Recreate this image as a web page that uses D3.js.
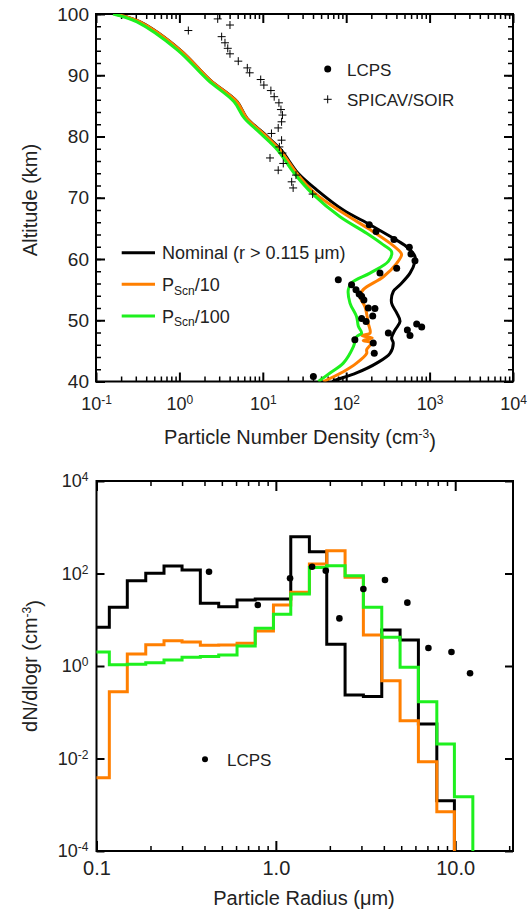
<!DOCTYPE html>
<html>
<head>
<meta charset="utf-8">
<script src="https://cdn.jsdelivr.net/npm/d3@7"></script>
<style>
  body { margin: 0; background: #fff; }
  svg { display: block; font-family: "Liberation Sans", Arial, Helvetica, sans-serif; }
</style>
</head>
<body>
<div id="chart"></div>
<script>
const width = 531;
const height = 911;

// ---- top panel: number density profiles (altitude km, density cm^-3)
const nominalAlt = [100, 98.7, 94.1, 89.2, 85.7, 83.0, 80.5, 77.8, 74.0, 71.3, 68.0, 65.6, 63.7, 62.0, 60.4, 59.6, 57.7, 55.8, 54.7, 52.8, 51.2, 49.8, 48.4, 47.1, 46.3, 44.6, 43.0, 41.4, 40.3, 40.0];
const nominalDen = [0.17, 0.338, 1.025, 2.34, 4.9, 6.45, 10.3, 16.6, 26.5, 44.3, 92.3, 193, 335, 531, 668, 668, 582, 442, 367, 350, 403, 442, 385, 350, 367, 335, 232, 133, 76.9, 68];

const scn10Alt = [100, 98.7, 94.1, 89.2, 85.7, 83.0, 80.5, 77.8, 74.0, 70.7, 67.5, 64.8, 62.6, 61.2, 60.7, 59.3, 57.1, 55.0, 53.9, 52.2, 49.5, 47.9, 47.5, 47.1, 46.7, 46.3, 45.2, 44.6, 43.0, 41.6, 40.0];
const scn10Den = [0.17, 0.336, 1.02, 2.33, 4.86, 6.41, 10.1, 16.1, 25.5, 42.3, 92.3, 193, 335, 442, 462, 403, 279, 160, 146, 168, 184, 193, 153, 205, 160, 200, 176, 176, 133, 92.3, 53.2];

const scn100Alt = [100, 98.7, 94.1, 89.2, 85.7, 83.0, 80.5, 77.8, 74.0, 70.5, 66.9, 64.2, 62.3, 61.2, 59.6, 57.7, 56.1, 55.0, 52.8, 50.6, 49.0, 47.9, 47.3, 45.7, 43.0, 41.4, 40.0];
const scn100Den = [0.16, 0.31, 0.95, 2.2, 4.5, 6.0, 9.4, 15.0, 23.8, 40.4, 84.3, 176, 279, 350, 320, 193, 116, 106, 111, 133, 140, 153, 133, 122, 92.3, 64.0, 46.3];

const lcpsAlt = [65.6, 64.5, 63.2, 61.9, 60.8, 59.7, 58.5, 57.7, 56.6, 55.8, 55.0, 54.3, 53.9, 53.3, 52.0, 51.9, 50.7, 50.3, 49.8, 49.4, 48.9, 48.4, 47.9, 47.5, 46.8, 46.3, 44.6, 40.8];
const lcpsDen = [189, 228, 374, 571, 598, 668, 403, 254, 80.4, 116, 131, 143, 153, 163, 184, 221, 208, 153, 173, 700, 804, 541, 320, 582, 127, 211, 217, 40.4];

const soirAlt = [99.2, 98.2, 97.3, 96.3, 95.3, 94.4, 93.5, 92.3, 91.2, 90.4, 89.3, 88.4, 87.5, 86.5, 85.5, 84.4, 83.5, 82.4, 81.4, 80.5, 79.4, 78.3, 77.3, 76.5, 75.6, 74.5, 73.7, 72.6, 71.6, 70.6];
const soirDen = [2.88, 4.04, 1.28, 3.21, 3.52, 3.80, 4.04, 5.08, 6.52, 6.96, 9.44, 10.3, 12.5, 13.7, 15.6, 16.5, 17.2, 16.8, 15.3, 12.7, 16.8, 15.8, 17.2, 12.2, 17.6, 15.3, 25.0, 22.2, 23.1, 39.6];

const altTicks = [40, 50, 60, 70, 80, 90, 100];
const altMinorTicks = d3.range(40, 101, 2);
const denTicks = [0.1, 1, 10, 100, 1000, 10000];

// ---- bottom panel: size distributions (bin edges in micron, dN/dlogr cm^-3)
const radiusEdges = [0.0935, 0.1179, 0.1485, 0.1882, 0.2379, 0.2999, 0.3793, 0.4802, 0.6076, 0.7674, 0.9696, 1.211, 1.538, 1.922, 2.432, 3.076, 3.895, 4.928, 6.234, 7.897, 9.897, 12.54];
const nominalDist = [6.87, 18.6, 70, 101, 145, 119, 22.7, 19.2, 26.7, 28.1, 28.0, 625, 296, 2.94, 0.236, 0.219, 6.0, 3.65, 0.0557, 0.00122];
const scn10Dist = [0.00385, 0.278, 1.82, 2.89, 3.52, 3.30, 2.80, 2.83, 3.12, 5.71, 20.8, 39.2, 160, 311, 82.7, 4.68, 0.481, 0.0656, 0.00853, 0.000708];
const scn100Dist = [2.01, 1.07, 1.09, 1.18, 1.35, 1.54, 1.61, 1.73, 2.70, 6.53, 13.1, 36.1, 134, 147, 89.7, 18.6, 4.17, 0.935, 0.169, 0.0206, 0.00149];

const lcpsRadius = [0.424, 0.793, 1.20, 1.592, 1.898, 2.261, 3.076, 4.06, 5.41, 7.09, 9.53, 12.1];
const lcpsDist = [109, 20.8, 78.7, 140, 115, 10.7, 46.2, 72.3, 23.4, 2.45, 2.01, 0.695];

const radiusTicks = [0.1, 1, 10];
const radiusLabels = ["0.1", "1.0", "10.0"];
const radiusMinorTicks = [0.2, 0.3, 0.4, 0.5, 0.6, 0.7, 0.8, 0.9, 2, 3, 4, 5, 6, 7, 8, 9, 20];
const distTicks = [1e-4, 1e-2, 1, 1e2, 1e4];

const colors = { nominal: "#000000", scn10: "#ff7f00", scn100: "#1ef01e" };
const textColor = "#222";

const svg = d3.select("#chart")
  .append("svg")
  .attr("width", width)
  .attr("height", height);

svg.append("rect").attr("width", width).attr("height", height).attr("fill", "#fff");

// panel boxes
const upper = { left: 96, right: 513, top: 14, bottom: 381.5 };
const lower = { left: 96.5, right: 513, top: 481, bottom: 851 };

const xTop = d3.scaleLog().domain([0.1, 1e4]).range([upper.left, upper.right]);
const yTop = d3.scaleLinear().domain([40, 100]).range([upper.bottom, upper.top]);
const xBot = d3.scaleLog().domain([0.1, 21]).range([lower.left, lower.right]);
const yBot = d3.scaleLog().domain([1e-4, 1e4]).range([lower.bottom, lower.top]);

const defs = svg.append("defs");
[["clipTop", upper], ["clipBot", lower]].forEach(([id, b]) => {
  defs.append("clipPath").attr("id", id)
    .append("rect")
    .attr("x", b.left).attr("y", b.top)
    .attr("width", b.right - b.left).attr("height", b.bottom - b.top);
});

function addAxis(axis, transform, strokeWidth, fontSize = 19) {
  const a = svg.append("g").attr("transform", transform).call(axis);
  a.select(".domain").remove();
  a.selectAll(".tick line").attr("stroke", "#000").attr("stroke-width", strokeWidth);
  a.selectAll(".tick text")
    .attr("fill", textColor)
    .attr("font-size", fontSize + "px")
    .attr("font-family", "Liberation Sans, Arial, sans-serif");
  return a;
}

function powerLabels(a) {
  a.selectAll(".tick text").each(function(d) {
    const t = d3.select(this);
    t.text(null);
    t.append("tspan").text("10");
    t.append("tspan").attr("dy", "-0.5em").attr("font-size", "12px").text(Math.round(Math.log10(d)));
  });
}

// ---- top panel axes
const noLabel = () => "";
addAxis(d3.axisLeft(yTop).tickValues(altMinorTicks).tickSize(-5).tickFormat(noLabel), `translate(${upper.left},0)`, 1.5);
addAxis(d3.axisRight(yTop).tickValues(altMinorTicks).tickSize(-5).tickFormat(noLabel), `translate(${upper.right},0)`, 1.5);
addAxis(d3.axisLeft(yTop).tickValues(altTicks).tickSize(-9).tickPadding(7).tickFormat(d3.format("d")), `translate(${upper.left},0)`, 2, 19);
addAxis(d3.axisRight(yTop).tickValues(altTicks).tickSize(-9).tickFormat(noLabel), `translate(${upper.right},0)`, 2);

const denMinor = [];
denTicks.slice(0, -1).forEach(d => d3.range(2, 10).forEach(m => denMinor.push(d * m)));
addAxis(d3.axisBottom(xTop).tickValues(denMinor).tickSize(-5).tickFormat(noLabel), `translate(0,${upper.bottom})`, 1.5);
addAxis(d3.axisTop(xTop).tickValues(denMinor).tickSize(-5).tickFormat(noLabel), `translate(0,${upper.top})`, 1.5);
powerLabels(addAxis(d3.axisBottom(xTop).tickValues(denTicks).tickSize(-9).tickPadding(16), `translate(0,${upper.bottom})`, 2, 18));
addAxis(d3.axisTop(xTop).tickValues(denTicks).tickSize(-9).tickFormat(noLabel), `translate(0,${upper.top})`, 2);

svg.append("rect")
  .attr("x", upper.left).attr("y", upper.top)
  .attr("width", upper.right - upper.left).attr("height", upper.bottom - upper.top)
  .attr("fill", "none").attr("stroke", "#000").attr("stroke-width", 2);

// ---- top panel data
const profileLine = d3.line()
  .x(d => xTop(d[1]))
  .y(d => yTop(d[0]))
  .curve(d3.curveCatmullRom.alpha(0.5));

const topPlot = svg.append("g").attr("clip-path", "url(#clipTop)");
[
  [nominalAlt, nominalDen, colors.nominal],
  [scn10Alt, scn10Den, colors.scn10],
  [scn100Alt, scn100Den, colors.scn100],
].forEach(([alt, den, color]) => {
  topPlot.append("path")
    .datum(d3.zip(alt, den))
    .attr("fill", "none")
    .attr("stroke", color)
    .attr("stroke-width", 3)
    .attr("stroke-linejoin", "round")
    .attr("d", profileLine);
});

topPlot.selectAll(".soir")
  .data(d3.zip(soirAlt, soirDen))
  .join("path")
  .attr("class", "soir")
  .attr("d", d => {
    const x = xTop(d[1]), y = yTop(d[0]);
    return `M${x - 4},${y}H${x + 4}M${x},${y - 4}V${y + 4}`;
  })
  .attr("stroke", "#000")
  .attr("stroke-width", 1);

topPlot.selectAll(".lcps")
  .data(d3.zip(lcpsAlt, lcpsDen))
  .join("circle")
  .attr("class", "lcps")
  .attr("cx", d => xTop(d[1]))
  .attr("cy", d => yTop(d[0]))
  .attr("r", 3.5)
  .attr("fill", "#000");

// top legends
svg.append("circle").attr("cx", 327.7).attr("cy", 69).attr("r", 3.5).attr("fill", "#000");
svg.append("path").attr("d", "M323.7,99.3H331.7M327.7,95.3V103.3").attr("stroke", "#000").attr("stroke-width", 1);
svg.append("text").attr("x", 347).attr("y", 75.5).attr("font-size", "17px").attr("fill", textColor).text("LCPS");
svg.append("text").attr("x", 347).attr("y", 105.5).attr("font-size", "17px").attr("fill", textColor).text("SPICAV/SOIR");

const lineLegend = [
  { color: colors.nominal, y: 252.7, label: "Nominal (r > 0.115 \u03bcm)" },
  { color: colors.scn10, y: 284.3, label: "/10" },
  { color: colors.scn100, y: 316, label: "/100" },
];
lineLegend.forEach((item, i) => {
  svg.append("line")
    .attr("x1", 121.7).attr("x2", 155)
    .attr("y1", item.y).attr("y2", item.y)
    .attr("stroke", item.color).attr("stroke-width", 3);
  const t = svg.append("text")
    .attr("x", 162).attr("y", item.y + 6.5)
    .attr("font-size", "18px").attr("fill", textColor);
  if (i === 0) {
    t.text(item.label);
  } else {
    t.append("tspan").text("P");
    t.append("tspan").attr("dy", "0.33em").attr("font-size", "12px").text("Scn");
    t.append("tspan").attr("dy", "-0.22em").text(item.label);
  }
});

// ---- bottom panel axes
addAxis(d3.axisBottom(xBot).tickValues(radiusMinorTicks).tickSize(-5).tickFormat(noLabel), `translate(0,${lower.bottom})`, 1.5);
addAxis(d3.axisTop(xBot).tickValues(radiusMinorTicks.filter(d => d < 20)).tickSize(-5).tickFormat(noLabel), `translate(0,${lower.top})`, 1.5);
addAxis(d3.axisBottom(xBot).tickValues(radiusTicks).tickSize(-10).tickPadding(10).tickFormat((d, i) => radiusLabels[i]), `translate(0,${lower.bottom})`, 2, 20);
addAxis(d3.axisTop(xBot).tickValues(radiusTicks).tickSize(-10).tickFormat(noLabel), `translate(0,${lower.top})`, 2);
powerLabels(addAxis(d3.axisLeft(yBot).tickValues(distTicks).tickSize(-8).tickPadding(8), `translate(${lower.left},0)`, 2, 18));
addAxis(d3.axisRight(yBot).tickValues(distTicks).tickSize(-8).tickFormat(noLabel), `translate(${lower.right},0)`, 2);

svg.append("rect")
  .attr("x", lower.left).attr("y", lower.top)
  .attr("width", lower.right - lower.left).attr("height", lower.bottom - lower.top)
  .attr("fill", "none").attr("stroke", "#000").attr("stroke-width", 2);

// ---- bottom panel histograms
const stepLine = d3.line()
  .x(d => xBot(d[0]))
  .y(d => yBot(d[1]))
  .curve(d3.curveStepAfter);

const botPlot = svg.append("g").attr("clip-path", "url(#clipBot)");
[
  [nominalDist, colors.nominal],
  [scn10Dist, colors.scn10],
  [scn100Dist, colors.scn100],
].forEach(([vals, color]) => {
  const pts = vals.map((v, i) => [radiusEdges[i], v]);
  pts.push([radiusEdges[vals.length], 1e-7]);
  botPlot.append("path")
    .datum(pts)
    .attr("fill", "none")
    .attr("stroke", color)
    .attr("stroke-width", 3)
    .attr("d", stepLine);
});

botPlot.selectAll(".lcps-dist")
  .data(d3.zip(lcpsRadius, lcpsDist))
  .join("circle")
  .attr("class", "lcps-dist")
  .attr("cx", d => xBot(d[0]))
  .attr("cy", d => yBot(d[1]))
  .attr("r", 3.3)
  .attr("fill", "#000");

svg.append("circle").attr("cx", 205).attr("cy", 759.3).attr("r", 3).attr("fill", "#000");
svg.append("text").attr("x", 227).attr("y", 765.5).attr("font-size", "17px").attr("fill", textColor).text("LCPS");

// ---- axis titles
const t1 = svg.append("text").attr("x", 300).attr("y", 444).attr("text-anchor", "middle").attr("font-size", "20px").attr("fill", textColor);
t1.append("tspan").text("Particle Number Density (cm");
t1.append("tspan").attr("dy", "-0.5em").attr("font-size", "12px").text("-3");
t1.append("tspan").attr("dy", "0.5em").text(")");

svg.append("text")
  .attr("transform", "translate(37,200) rotate(-90)")
  .attr("text-anchor", "middle").attr("font-size", "20px").attr("fill", textColor)
  .text("Altitude (km)");

const t2 = svg.append("text")
  .attr("transform", "translate(37,666) rotate(-90)")
  .attr("text-anchor", "middle").attr("font-size", "20px").attr("fill", textColor);
t2.append("tspan").text("dN/dlogr (cm");
t2.append("tspan").attr("dy", "-0.5em").attr("font-size", "12px").text("-3");
t2.append("tspan").attr("dy", "0.5em").text(")");

svg.append("text").attr("x", 304).attr("y", 905).attr("text-anchor", "middle").attr("font-size", "20px").attr("fill", textColor)
  .text("Particle Radius (\u03bcm)");
</script>
</body>
</html>
